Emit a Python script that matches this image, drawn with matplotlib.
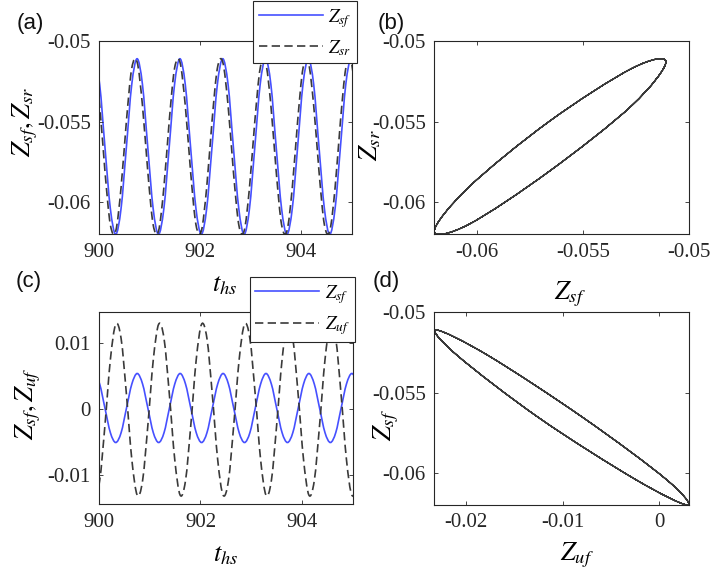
import matplotlib
matplotlib.use("Agg")
import numpy as np
import matplotlib.pyplot as plt
from matplotlib.lines import Line2D
from matplotlib.patches import PathPatch
from matplotlib.path import Path

# time samples (t_hs): 8 samples per oscillation
t_hs = [
    899.801,
    899.907, 900.013, 900.118, 900.224, 900.330, 900.436, 900.541, 900.647,
    900.753, 900.859, 900.964, 901.070, 901.176, 901.282, 901.387, 901.493,
    901.599, 901.705, 901.810, 901.916, 902.022, 902.128, 902.233, 902.339,
    902.445, 902.551, 902.656, 902.762, 902.868, 902.974, 903.079, 903.185,
    903.291, 903.397, 903.502, 903.608, 903.714, 903.820, 903.925, 904.031,
    904.137, 904.243, 904.348, 904.454, 904.560, 904.666, 904.771, 904.877,
    904.983, 905.089, 905.194,
]

# panel (a)/(b)
z_sf_a = [
    -0.0527,
    -0.0511, -0.0527, -0.0566, -0.0604, -0.0620, -0.0604, -0.0566, -0.0527,
    -0.0511, -0.0527, -0.0566, -0.0604, -0.0620, -0.0604, -0.0566, -0.0527,
    -0.0511, -0.0527, -0.0566, -0.0604, -0.0620, -0.0604, -0.0566, -0.0527,
    -0.0511, -0.0527, -0.0566, -0.0604, -0.0620, -0.0604, -0.0566, -0.0527,
    -0.0511, -0.0527, -0.0566, -0.0604, -0.0620, -0.0604, -0.0566, -0.0527,
    -0.0511, -0.0527, -0.0566, -0.0604, -0.0620, -0.0604, -0.0566, -0.0527,
    -0.0511, -0.0527, -0.0566,
]
z_sr_a = [
    -0.0517,
    -0.0513, -0.0540, -0.0581, -0.0614, -0.0618, -0.0591, -0.0550, -0.0517,
    -0.0513, -0.0540, -0.0581, -0.0614, -0.0618, -0.0591, -0.0550, -0.0517,
    -0.0513, -0.0540, -0.0581, -0.0614, -0.0618, -0.0591, -0.0550, -0.0517,
    -0.0513, -0.0540, -0.0581, -0.0614, -0.0618, -0.0591, -0.0550, -0.0517,
    -0.0513, -0.0540, -0.0581, -0.0614, -0.0618, -0.0591, -0.0550, -0.0517,
    -0.0513, -0.0540, -0.0581, -0.0614, -0.0618, -0.0591, -0.0550, -0.0517,
    -0.0513, -0.0540, -0.0581,
]

# panel (c)
z_sf_c = [
    0.0038,
    0.0054, 0.0038, 0.0001, -0.0036, -0.0051, -0.0036, 0.0001, 0.0038,
    0.0054, 0.0038, 0.0001, -0.0036, -0.0051, -0.0036, 0.0001, 0.0038,
    0.0054, 0.0038, 0.0001, -0.0036, -0.0051, -0.0036, 0.0001, 0.0038,
    0.0054, 0.0038, 0.0001, -0.0036, -0.0051, -0.0036, 0.0001, 0.0038,
    0.0054, 0.0038, 0.0001, -0.0036, -0.0051, -0.0036, 0.0001, 0.0038,
    0.0054, 0.0038, 0.0001, -0.0036, -0.0051, -0.0036, 0.0001, 0.0038,
    0.0054, 0.0038, 0.0001,
]
z_uf_c = [
    -0.0077,
    -0.0131, -0.0109, -0.0024, 0.0075, 0.0129, 0.0107, 0.0022, -0.0077,
    -0.0131, -0.0109, -0.0024, 0.0075, 0.0129, 0.0107, 0.0022, -0.0077,
    -0.0131, -0.0109, -0.0024, 0.0075, 0.0129, 0.0107, 0.0022, -0.0077,
    -0.0131, -0.0109, -0.0024, 0.0075, 0.0129, 0.0107, 0.0022, -0.0077,
    -0.0131, -0.0109, -0.0024, 0.0075, 0.0129, 0.0107, 0.0022, -0.0077,
    -0.0131, -0.0109, -0.0024, 0.0075, 0.0129, 0.0107, 0.0022, -0.0077,
    -0.0131, -0.0109, -0.0024,
]

# panel (d): Z_uf on its own offset, plotted against z_sf_a
z_uf_d = [
    -0.0177,
    -0.0231, -0.0209, -0.0124, -0.0025, 0.0029, 0.0007, -0.0078, -0.0177,
    -0.0231, -0.0209, -0.0124, -0.0025, 0.0029, 0.0007, -0.0078, -0.0177,
    -0.0231, -0.0209, -0.0124, -0.0025, 0.0029, 0.0007, -0.0078, -0.0177,
    -0.0231, -0.0209, -0.0124, -0.0025, 0.0029, 0.0007, -0.0078, -0.0177,
    -0.0231, -0.0209, -0.0124, -0.0025, 0.0029, 0.0007, -0.0078, -0.0177,
    -0.0231, -0.0209, -0.0124, -0.0025, 0.0029, 0.0007, -0.0078, -0.0177,
    -0.0231, -0.0209, -0.0124,
]

BLUE = "#4650ff"
DARK = "#3a3a3a"
AXC = "#262626"
DASH = (0, (5, 2.6))

plt.rcParams.update({
    "font.family": "Liberation Serif",
    "mathtext.fontset": "stix",
    "axes.unicode_minus": False,
})


def smooth_curve(ax, xs, ys, color, lw=1.2, ls="solid"):
    # smooth line through the samples (Catmull-Rom as cubic Bezier)
    p = np.column_stack([xs, ys])
    verts = [p[1]]
    codes = [Path.MOVETO]
    for i in range(1, len(p) - 2):
        c1 = p[i] + (p[i + 1] - p[i - 1]) / 6
        c2 = p[i + 1] - (p[i + 2] - p[i]) / 6
        verts += [c1, c2, p[i + 1]]
        codes += [Path.CURVE4] * 3
    ax.add_patch(PathPatch(Path(verts, codes), fill=False, edgecolor=color,
                           linewidth=lw, linestyle=ls, capstyle="butt"))


def style(ax, xlim, ylim, xticks, yticks, xfmt, yfmt):
    ax.set_xlim(*xlim)
    ax.set_ylim(*ylim)
    ax.set_xticks(xticks)
    ax.set_yticks(yticks)
    ax.set_xticklabels([xfmt(v) for v in xticks])
    ax.set_yticklabels([yfmt(v) for v in yticks])
    ax.tick_params(direction="in", length=3, width=0.6, top=True, right=True,
                   labelsize=15, pad=6, colors=AXC)
    for s in ax.spines.values():
        s.set_color(AXC)
        s.set_linewidth(0.8)


def legend(ax, labels, anchor, fig):
    handles = [Line2D([], [], color=BLUE, lw=1.2),
               Line2D([], [], color=DARK, lw=1.2, linestyle=DASH)]
    lg = ax.legend(handles, labels, loc="upper right", bbox_to_anchor=anchor,
                   bbox_transform=fig.transFigure, fontsize=13.5, frameon=True,
                   fancybox=False, framealpha=1, edgecolor=AXC, borderpad=0.3,
                   labelspacing=0.45, handlelength=3.4, handletextpad=0.3,
                   borderaxespad=0)
    lg.get_frame().set_linewidth(0.8)


W, H = 712, 569
fig = plt.figure(figsize=(W / 100, H / 100), dpi=100)


def axes_px(x0, y0, x1, y1):
    return fig.add_axes([x0 / W, 1 - y1 / H, (x1 - x0) / W, (y1 - y0) / H])


ax_a = axes_px(99, 41, 352, 234.3)
ax_b = axes_px(434.3, 41, 689.3, 234.3)
ax_c = axes_px(99, 311.7, 352.7, 504.3)
ax_d = axes_px(434.3, 312.3, 689.3, 505)

num = lambda v: f"{v:g}"
tfmt = lambda v: f"{v:.0f}"

# (a)
smooth_curve(ax_a, t_hs, z_sf_a, BLUE)
smooth_curve(ax_a, t_hs, z_sr_a, DARK, ls=DASH)
style(ax_a, (900, 905), (-0.062, -0.05), [900, 902, 904],
      [-0.06, -0.055, -0.05], tfmt, num)
ax_a.set_xlabel(r"$t_{hs}$", fontsize=19)
ax_a.xaxis.set_label_coords(0.498, -0.21)
ax_a.set_ylabel(r"$Z_{sf},Z_{sr}$", fontsize=19)
ax_a.yaxis.set_label_coords(-0.235, 0.581)
legend(ax_a, [r"$Z_{sf}$", r"$Z_{sr}$"], (357 / W, 1 - 1 / H), fig)

# (b)
smooth_curve(ax_b, z_sf_a, z_sr_a, DARK, lw=0.85)
style(ax_b, (-0.062, -0.05), (-0.062, -0.05), [-0.06, -0.055, -0.05],
      [-0.06, -0.055, -0.05], num, num)
ax_b.set_xlabel(r"$Z_{sf}$", fontsize=19)
ax_b.xaxis.set_label_coords(0.532, -0.235)
ax_b.set_ylabel(r"$Z_{sr}$", fontsize=19)
ax_b.yaxis.set_label_coords(-0.2, 0.462)

# (c)
smooth_curve(ax_c, t_hs, z_sf_c, BLUE)
smooth_curve(ax_c, t_hs, z_uf_c, DARK, ls=DASH)
style(ax_c, (900, 905), (-0.0145, 0.0148), [900, 902, 904],
      [-0.01, 0, 0.01], tfmt, num)
ax_c.set_xlabel(r"$t_{hs}$", fontsize=19)
ax_c.xaxis.set_label_coords(0.498, -0.21)
ax_c.set_ylabel(r"$Z_{sf}, Z_{uf}$", fontsize=19)
ax_c.yaxis.set_label_coords(-0.22, 0.521)
legend(ax_c, [r"$Z_{sf}$", r"$Z_{uf}$"], (355 / W, 1 - 277 / H), fig)

# (d)
smooth_curve(ax_d, z_uf_d, z_sf_a, DARK, lw=0.85)
style(ax_d, (-0.0233, 0.0031), (-0.062, -0.05), [-0.02, -0.01, 0],
      [-0.06, -0.055, -0.05], num, num)
ax_d.set_xlabel(r"$Z_{uf}$", fontsize=19)
ax_d.xaxis.set_label_coords(0.56, -0.185)
ax_d.set_ylabel(r"$Z_{sf}$", fontsize=19)
ax_d.yaxis.set_label_coords(-0.13, 0.415)

# panel letters
for lab, x, y in [("(a)", 30, 23), ("(b)", 391, 23), ("(c)", 29, 282), ("(d)", 386, 282)]:
    fig.text(x / W, 1 - y / H, lab, fontsize=16, family="Liberation Sans",
             ha="center", va="center", color="#111111")

fig.savefig("out.png", dpi=100)
